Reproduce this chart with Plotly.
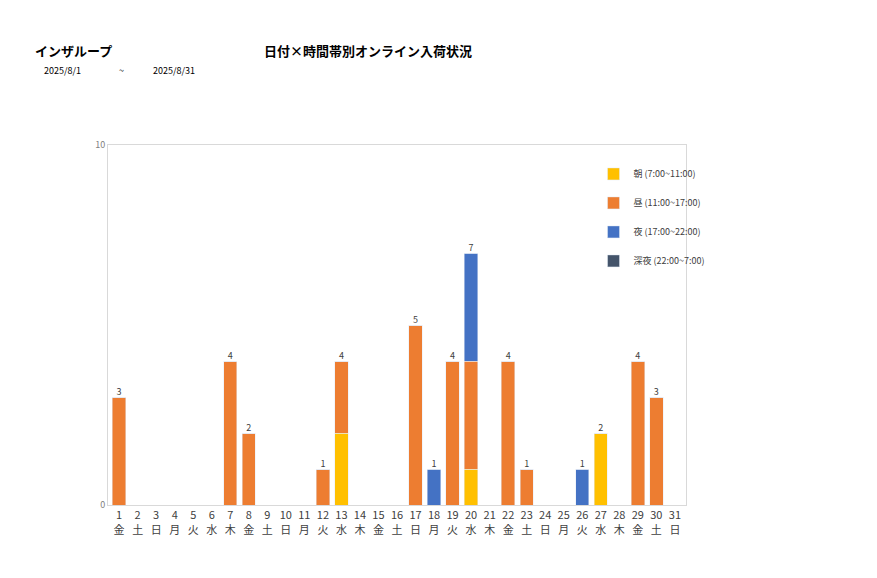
import plotly.graph_objects as go

days = list(range(1, 32))
weekdays = ["金", "土", "日", "月", "火", "水", "木"]
day_labels = [f"{d}<br>{weekdays[(d - 1) % 7]}" for d in days]

asa = [0]*31
hiru = [0]*31
yoru = [0]*31
shinya = [0]*31
for d, v in {1: 3, 7: 4, 8: 2, 12: 1, 13: 2, 17: 5, 19: 4, 20: 3, 22: 4, 23: 1, 29: 4, 30: 3}.items():
    hiru[d-1] = v
for d, v in {13: 2, 20: 1, 27: 2}.items():
    asa[d-1] = v
for d, v in {18: 1, 20: 3, 26: 1}.items():
    yoru[d-1] = v

totals = [a+b+c+e for a, b, c, e in zip(asa, hiru, yoru, shinya)]

fig = go.Figure()
series = [
    ("朝 (7:00~11:00)", asa, "#FFC000"),
    ("昼 (11:00~17:00)", hiru, "#ED7D31"),
    ("夜 (17:00~22:00)", yoru, "#4472C4"),
    ("深夜 (22:00~7:00)", shinya, "#44546A"),
]
for name, vals, col in series:
    fig.add_trace(go.Bar(x=days, y=vals, name=name, marker_color=col, legendgroup=name))

fig.add_trace(go.Scatter(
    x=[d for d, t in zip(days, totals) if t > 0],
    y=[t for t in totals if t > 0],
    text=[str(t) for t in totals if t > 0],
    mode="text", textposition="top center",
    textfont=dict(size=9, color="#404040"), showlegend=False, cliponaxis=False,
))

fig.update_layout(
    width=877, height=578,
    barmode="stack", bargap=0.28,
    plot_bgcolor="white", paper_bgcolor="white",
    font=dict(family="Noto Sans CJK JP", color="#404040"),
    margin=dict(l=100, r=199, t=137, b=81, autoexpand=False),
    xaxis=dict(tickmode="array", tickvals=days, ticktext=day_labels, range=[0.4, 31.6],
               showline=True, linecolor="#D9D9D9", mirror=True, tickfont=dict(size=11),
               ticks=""),
    yaxis=dict(range=[0, 10], tickvals=[0, 10], showgrid=False, zeroline=False,
               showline=True, linecolor="#D9D9D9", mirror=True, tickfont=dict(size=9, color="#808080")),
    legend=dict(x=0.84, y=0.96, xanchor="left", yanchor="top", traceorder="grouped",
                tracegroupgap=10, font=dict(size=9), itemwidth=30, bgcolor="rgba(0,0,0,0)"),
)
W, H = 877 - 100 - 199, 578 - 137 - 81
header = [
    ("<b>インザループ</b>", 25, 42, 13, "left"),
    ("<b>日付×時間帯別オンライン入荷状況</b>", 360, 42, 13, "center"),
    ("2025/8/1", 54, 62, 9, "center"),
    ("~", 113, 62, 9, "center"),
    ("2025/8/31", 166, 62, 9, "center"),
]
fig.update_layout(annotations=[
    dict(text=t, xref="paper", yref="paper", x=(px - 100) / W, y=(497 - py) / H,
         xanchor=anc, yanchor="middle", showarrow=False, font=dict(size=sz, color="#000000"))
    for t, px, py, sz, anc in header
])

fig.write_html("out.html")
